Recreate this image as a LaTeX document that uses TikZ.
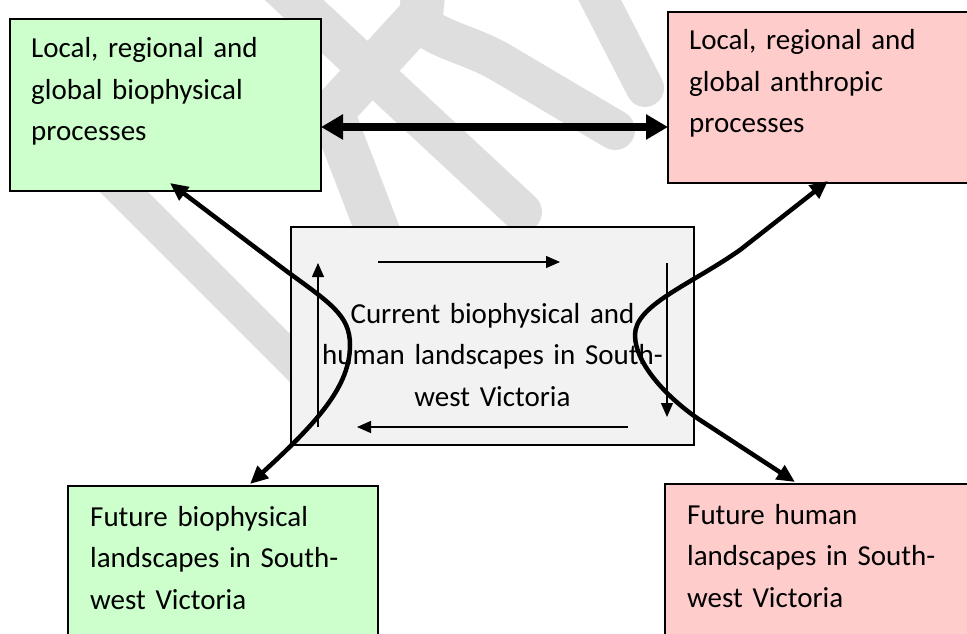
\documentclass[tikz,border=0pt]{standalone}
\usepackage{fontspec}
\setmainfont{Carlito}
\usetikzlibrary{arrows.meta}

\definecolor{bioGreen}{HTML}{CCFFCC}
\definecolor{humanPink}{HTML}{FFCCCC}
\definecolor{currentGrey}{HTML}{F2F2F2}
\definecolor{markGrey}{RGB}{222,222,222}

\tikzset{
  box/.style={draw=black, line width=1.3pt, anchor=north west,
              inner sep=0pt, outer sep=0pt},
  lbl/.style={font=\fontsize{29}{41.5}\selectfont, inner sep=0pt,
              text width=300pt, align=left, anchor=base west},
  thinarrow/.style={line width=1.3pt, -{Triangle[length=14pt,width=12pt]}},
  linkarrow/.style={line width=4.5pt, {Triangle[length=18pt,width=16pt]}-{Triangle[length=18pt,width=16pt]}},
  mainarrow/.style={line width=7.5pt, {Triangle[length=22pt,width=24pt]}-{Triangle[length=22pt,width=24pt]}},
  shadestroke/.style={markGrey, line width=40pt, line cap=round, line join=round}
}

\begin{document}
\begin{tikzpicture}[x=1pt, y=-1pt]
\useasboundingbox (0,0) rectangle (967,634);

% faint lettering behind the diagram
\draw[shadestroke, line width=34pt] (40,108) -- (340,408);
\draw[shadestroke] (278,-15) -- (522,212);
\draw[shadestroke, line width=44pt] (425,-25) -- (421,15) -- (332,112) -- (385,250);
\draw[shadestroke] (423,25) .. controls (440,40) and (470,45) .. (500,62) -- (615,130);
\draw[shadestroke, line width=38pt] (592,-15) -- (645,88);

% boxes
\node[box, fill=bioGreen,  minimum width=311pt, minimum height=172pt] (bioNow)   at (10,19)   {};
\node[box, fill=humanPink, minimum width=330pt, minimum height=171pt] (humanNow) at (668,12)  {};
\node[box, fill=currentGrey, minimum width=403pt, minimum height=218pt] (current) at (291,227) {};
\node[box, fill=bioGreen,  minimum width=310pt, minimum height=200pt] (bioFut)   at (68,486)  {};
\node[box, fill=humanPink, minimum width=330pt, minimum height=200pt] (humanFut) at (665,484) {};

% texts
\node[lbl] (bioNowText)   at (31,58)  {Local, regional and\\global biophysical\\processes};
\node[lbl] (humanNowText) at (689,50) {Local, regional and\\global anthropic\\processes};
\node[lbl, text width=400pt, align=center, anchor=base] (currentText) at (492.5,323)
  {Current biophysical and\\human landscapes in South-\\west Victoria};
\node[lbl] (bioFutText)   at (90,526)  {Future biophysical\\landscapes in South-\\west Victoria};
\node[lbl] (humanFutText) at (687,524) {Future human\\landscapes in South-\\west Victoria};

% cycle inside the current landscapes box
\coordinate (cycTopA) at (378,262);
\coordinate (cycTopB) at (560,262);
\coordinate (cycRightA) at (667,263);
\coordinate (cycRightB) at (667,417);
\coordinate (cycBotA) at (628,427);
\coordinate (cycBotB) at (357,427);
\coordinate (cycLeftA) at (318,427);
\coordinate (cycLeftB) at (318,263);
\draw[thinarrow] (cycTopA) -- (cycTopB);
\draw[thinarrow] (cycRightA) -- (cycRightB);
\draw[thinarrow] (cycBotA) -- (cycBotB);
\draw[thinarrow] (cycLeftA) -- (cycLeftB);

% link between the two process boxes
\draw[mainarrow] ([yshift=-22pt]bioNow.east) -- ([yshift=-22pt]bioNow.east -| humanNow.west);

% S-shaped links through the current landscapes box
\draw[linkarrow] ([shift={(160pt,8pt)}]bioNow.south west) -- (285,270)
  .. controls (330,303) and (350,315) .. (350,345)
  .. controls (350,385) and (320,420) .. ([shift={(182pt,2pt)}]bioFut.north west);
\draw[linkarrow] ([shift={(160pt,2pt)}]humanNow.south west) -- (740,250)
  .. controls (690,285) and (635,305) .. (635,335)
  .. controls (635,365) and (670,400) .. (700,420)
  -- ([shift={(130pt,2pt)}]humanFut.north west);
\end{tikzpicture}
\end{document}
